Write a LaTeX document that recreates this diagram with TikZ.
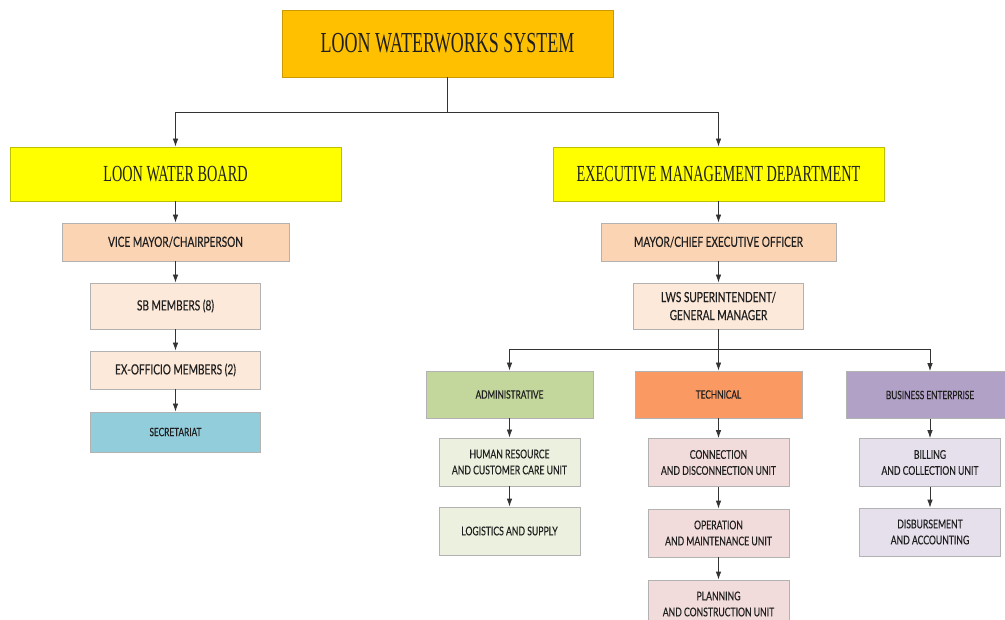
\documentclass[tikz,border=0pt]{standalone}
\usepackage{fontspec}
\usepackage{tikz}
\usetikzlibrary{arrows.meta,positioning}
\newfontfamily\headfont[FakeStretch=0.62]{Liberation Serif}
\newfontfamily\unitfont[FakeStretch=0.72,FakeBold=0.3]{Lato}
\definecolor{topgold}{HTML}{FFC000}
\definecolor{headyellow}{HTML}{FFFF00}
\definecolor{peach}{HTML}{FBD4B4}
\definecolor{paleorange}{HTML}{FDE9D9}
\definecolor{seablue}{HTML}{92CDDC}
\definecolor{admgreen}{HTML}{C3D69B}
\definecolor{palegreen}{HTML}{EBF1DE}
\definecolor{techorange}{HTML}{FA9A62}
\definecolor{palerose}{HTML}{F2DCDB}
\definecolor{bizpurple}{HTML}{B2A1C7}
\definecolor{palelilac}{HTML}{E5E0EC}

\begin{document}
\begin{tikzpicture}[
    x=1pt, y=-1pt,
    >={Latex[length=8pt,width=5.5pt]},
    box/.style={draw=black!30, line width=0.8pt, align=center, inner sep=2pt, text=black!88},
    head/.style={box, font=\headfont\fontsize{23}{26}\selectfont, minimum width=331pt, minimum height=54pt, fill=headyellow, draw=headyellow!75!black},
    post/.style={box, font=\unitfont\fontsize{14}{18}\selectfont},
    dept/.style={box, font=\unitfont\fontsize{11.5}{14}\selectfont, minimum width=167pt, minimum height=47pt},
    unit/.style={box, font=\unitfont\fontsize{12}{16}\selectfont, minimum width=141pt, minimum height=48pt},
    link/.style={draw=black!80, line width=0.8pt}
]
\fill[white] (0,0) rectangle (1005,620);
\useasboundingbox (0,0) rectangle (1005,620);

% top of the chart
\node[box, font=\headfont\fontsize{29}{32}\selectfont, minimum width=331pt, minimum height=67pt, fill=topgold, draw=topgold!80!black] (lws) at (447.5,43.5) {LOON WATERWORKS SYSTEM};
\node[head] (board) at (175.5,174) {LOON WATER BOARD};
\node[head] (emd) at (718.5,174) {EXECUTIVE MANAGEMENT DEPARTMENT};

% water board column
\node[post, fill=peach, minimum width=227pt, minimum height=38pt] (vmayor) at (175.5,242) {VICE MAYOR/CHAIRPERSON};
\node[post, fill=paleorange, minimum width=170pt, minimum height=46pt] (sbm) at (175.5,306) {SB MEMBERS (8)};
\node[post, fill=paleorange, minimum width=170pt, minimum height=38pt] (exo) at (175.5,370) {EX-OFFICIO MEMBERS (2)};
\node[dept, fill=seablue, minimum width=170pt, minimum height=40pt] (secr) at (175.5,432) {SECRETARIAT};

% management column
\node[post, fill=peach, minimum width=235pt, minimum height=38pt] (mayor) at (718.5,242) {MAYOR/CHIEF EXECUTIVE OFFICER};
\node[post, fill=paleorange, minimum width=170pt, minimum height=46pt] (gm) at (718.5,306) {LWS SUPERINTENDENT/\\GENERAL MANAGER};

\node[dept, fill=admgreen] (adm) at (509.5,394.5) {ADMINISTRATIVE};
\node[dept, fill=techorange] (tech) at (718.5,394.5) {TECHNICAL};
\node[dept, fill=bizpurple, minimum width=168pt] (biz) at (930,395) {BUSINESS ENTERPRISE};

\node[unit, fill=palegreen] (hr) at (509.5,462) {HUMAN RESOURCE\\AND CUSTOMER CARE UNIT};
\node[unit, fill=palegreen] (logi) at (509.5,531) {LOGISTICS AND SUPPLY};
\node[unit, fill=palerose] (conn) at (718.5,462.5) {CONNECTION\\AND DISCONNECTION UNIT};
\node[unit, fill=palerose] (oper) at (718.5,533) {OPERATION\\AND MAINTENANCE UNIT};
\node[unit, fill=palerose] (plan) at (718.5,604) {PLANNING\\AND CONSTRUCTION UNIT};
\node[unit, fill=palelilac] (bill) at (930,462.5) {BILLING\\AND COLLECTION UNIT};
\node[unit, fill=palelilac] (disb) at (930,532) {DISBURSEMENT\\AND ACCOUNTING};

% connectors
\coordinate (split) at (447.5,112);
\coordinate (split2) at (718.5,349);
\draw[link] (lws) -- (split);
\draw[link,->] (split) -| (board);
\draw[link,->] (split) -| (emd);
\draw[link] (gm) -- (split2);
\draw[link,->] (split2) -| (adm);
\draw[link,->] (split2) -- (tech);
\draw[link,->] (split2) -| (biz);
\foreach \u/\l in {board/vmayor, vmayor/sbm, sbm/exo, exo/secr, emd/mayor, mayor/gm,
                   adm/hr, hr/logi, tech/conn, conn/oper, oper/plan, biz/bill, bill/disb}
  \draw[link,->] (\u) -- (\l);
\end{tikzpicture}
\end{document}
